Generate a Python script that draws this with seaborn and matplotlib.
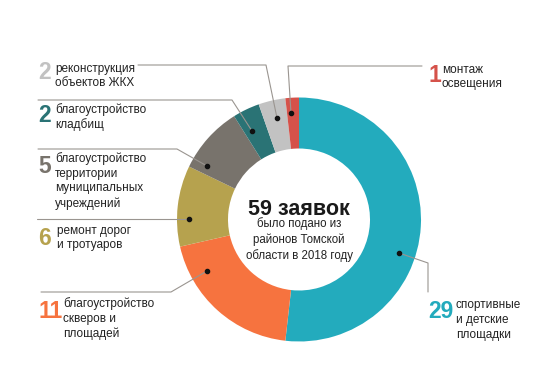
import matplotlib
matplotlib.use("Agg")
import matplotlib.pyplot as plt
import seaborn as sns

sns.set_theme(style="white")
plt.rcParams['font.family'] = ['Liberation Sans', 'DejaVu Sans']

# data, clockwise from 12 o'clock
counts = [29, 11, 6, 5, 2, 2, 1]
names = [
    "спортивные\nи детские\nплощадки",
    "благоустройство\nскверов и\nплощадей",
    "ремонт дорог\nи тротуаров",
    "благоустройство\nтерритории\nмуниципальных\nучреждений",
    "благоустройство\nкладбищ",
    "реконструкция\nобъектов ЖКХ",
    "монтаж\nосвещения",
]
colors = ["#23abbd", "#f6733f", "#b6a24e", "#78736c", "#2a7375", "#c2c2c2", "#d5524a"]
total_text = "59 заявок"
sub_text = "было подано из\nрайонов Томской\nобласти в 2018 году"

W, H = 543, 374

# label layout in pixel coords (x, y from top-left)
num_pos = [(428, 311), (38, 311), (38, 238), (38, 166), (38, 115), (38, 72), (428, 75)]
text_pos = [(456, 320), (63, 319), (57, 238), (55, 181), (55, 117), (55, 76), (442, 77)]
leaders = [
    [(399, 253), (428, 263), (428, 292)],
    [(207, 271), (171, 292), (41, 292)],
    [(189, 219), (37, 219)],
    [(207, 166), (177, 149), (38, 149)],
    [(252, 131), (232, 100), (38, 100)],
    [(277, 118), (266, 65), (138, 65)],
    [(291, 113), (288, 66), (422, 66)],
]


def fy(y):
    return H - y


fig = plt.figure(figsize=(W / 100, H / 100), dpi=100)
ax = fig.add_axes([0, 0, 1, 1])

ax.pie(counts, colors=colors, startangle=90, counterclock=False,
       radius=122, center=(299, fy(219.5)),
       wedgeprops=dict(width=51, linewidth=0))

for n, name, c, (nx, ny), (tx, ty), path in zip(counts, names, colors, num_pos, text_pos, leaders):
    xs = [p[0] for p in path]
    ys = [fy(p[1]) for p in path]
    ax.plot(xs, ys, color="#9a9590", lw=0.8, zorder=3)
    ax.plot(xs[0], ys[0], 'o', color="#111111", ms=3, zorder=4)
    ax.text(nx, fy(ny), str(n), color=c, fontsize=16.5, fontweight='bold',
            ha='left', va='center')
    ax.text(tx, fy(ty), name, color="#222222", fontsize=8.5,
            ha='left', va='center', linespacing=1.3)

ax.text(299, fy(209), total_text, color="#1a1a1a", fontsize=15.5,
        fontweight='bold', ha='center', va='center')
ax.text(299, fy(239.5), sub_text, color="#222222", fontsize=8.3,
        ha='center', va='center', linespacing=1.3)

ax.set_xlim(0, W)
ax.set_ylim(0, H)
ax.set_aspect('equal')
ax.axis('off')

fig.savefig("out.png", dpi=100)
plt.close(fig)
